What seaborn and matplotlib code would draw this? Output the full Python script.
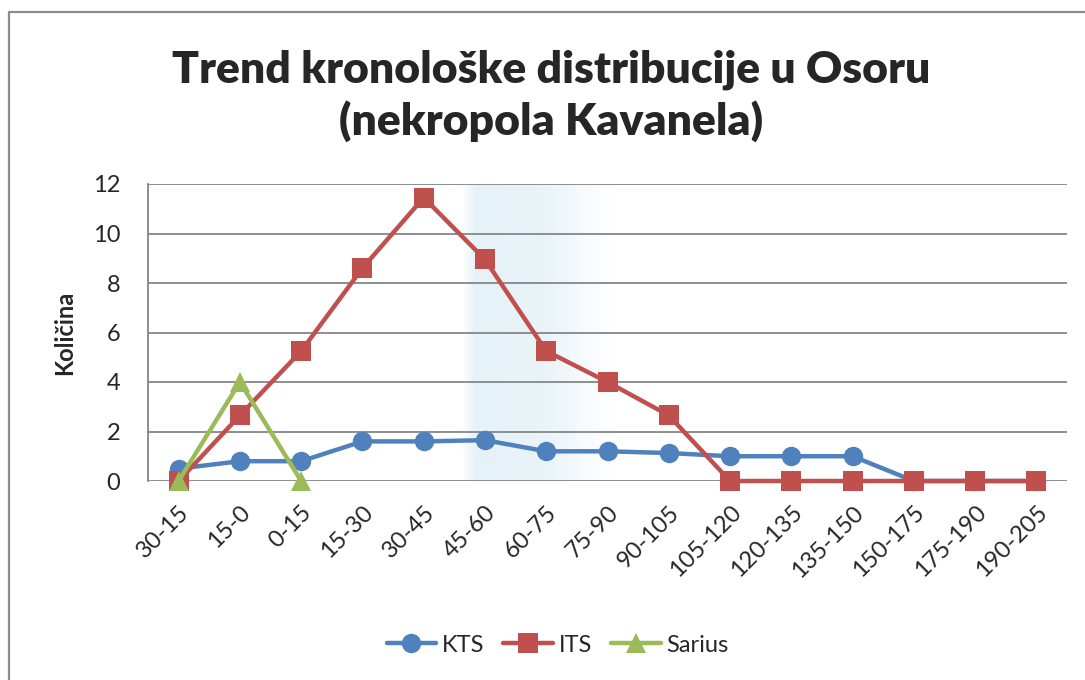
import numpy as np
import pandas as pd
import matplotlib
matplotlib.use("Agg")
import matplotlib.pyplot as plt
from matplotlib.lines import Line2D
import seaborn as sns

# Chronological periods and counts per group
periods = ["30-15", "15-0", "0-15", "15-30", "30-45", "45-60", "60-75", "75-90",
           "90-105", "105-120", "120-135", "135-150", "150-175", "175-190", "190-205"]
kts = [0.5, 0.8, 0.8, 1.6, 1.6, 1.65, 1.2, 1.2, 1.13, 1.0, 1.0, 1.0, 0, 0, 0]
its = [0, 2.65, 5.25, 8.6, 11.45, 8.95, 5.25, 4.0, 2.65, 0, 0, 0, 0, 0, 0]
sarius = [0, 4, 0]

series_names = ["KTS", "ITS", "Sarius"]
colors = {"KTS": "#4F81BD", "ITS": "#C0504D", "Sarius": "#9BBB59"}
markers = {"KTS": "o", "ITS": "s", "Sarius": "^"}

sns.set_theme(style="white")
plt.rcParams["font.family"] = ["Lato", "DejaVu Sans"]

fig = plt.figure(figsize=(10.85, 6.8), dpi=100)
ax = fig.add_axes([148 / 1085, 1 - 481 / 680, (1067 - 148) / 1085, (481 - 184) / 680])

# Light blue vertical gradient band behind the lines
xs = np.linspace(0, 1, 400)
x0, x1 = 4.63, 7.05
pos = x0 + xs * (x1 - x0)
alpha = np.interp(pos, [4.63, 4.85, 6.0, 7.05], [0.0, 1.0, 0.85, 0.0])
base = np.array([0.90, 0.95, 0.972])
rgb = 1 - alpha[:, None] * (1 - base)
ax.imshow(rgb[None, :, :], extent=[x0, x1, 0, 12], aspect="auto", zorder=0,
          interpolation="bilinear")

idx = np.arange(len(periods))
frames = {
    "KTS": pd.DataFrame({"pos": idx, "value": kts}),
    "ITS": pd.DataFrame({"pos": idx, "value": its}),
    "Sarius": pd.DataFrame({"pos": idx[:len(sarius)], "value": sarius}),
}
for z, name in enumerate(series_names):
    sns.lineplot(data=frames[name], x="pos", y="value", ax=ax, color=colors[name],
                 marker=markers[name], markersize=14 if name != "Sarius" else 15,
                 markeredgewidth=0, linewidth=3.2, clip_on=False, zorder=3 + z,
                 legend=False)

ax.set_xlim(-0.5, len(periods) - 0.5)
ax.set_ylim(0, 12)
ax.set_yticks(np.arange(0, 13, 2))
ax.set_xticks(idx)
ax.set_xticklabels(periods, rotation=45, ha="right", rotation_mode="anchor",
                   fontsize=17)
ax.tick_params(axis="x", length=0, pad=15)
ax.tick_params(axis="y", length=0, pad=20, labelsize=17)
ax.yaxis.grid(True, color="#868686", linewidth=1.3, zorder=1)
for line in ax.get_ygridlines():
    line.set_zorder(1)
for side in ["top", "right", "bottom"]:
    ax.spines[side].set_visible(False)
ax.spines["left"].set_color("#868686")
ax.spines["left"].set_linewidth(1.3)
ax.set_xlabel("")
ax.set_ylabel("Količina", fontsize=17, fontweight="bold", labelpad=12)

fig.text(0.508, 1 - 96 / 680, "Trend kronološke distribucije u Osoru\n(nekropola Kavanela)",
         ha="center", va="center", fontsize=32, fontweight="heavy", linespacing=1.3)

handles = [Line2D([0], [0], color=colors[n], marker=markers[n], markersize=14,
                  markeredgewidth=0, linewidth=3.2) for n in series_names]
fig.legend(handles, series_names, loc="center", bbox_to_anchor=(0.514, 1 - 645 / 680),
           ncol=3, frameon=False, fontsize=17, handlelength=2.1, columnspacing=0.8,
           handletextpad=0.25)

# Chart frame (left and top edges)
fig.add_artist(Line2D([9 / 1085, 9 / 1085], [0, 1 - 12 / 680], transform=fig.transFigure,
                      color="#8c8c8c", linewidth=1.6))
fig.add_artist(Line2D([9 / 1085, 1], [1 - 12 / 680, 1 - 12 / 680], transform=fig.transFigure,
                      color="#8c8c8c", linewidth=1.6))

fig.savefig("out.png", dpi=100)
